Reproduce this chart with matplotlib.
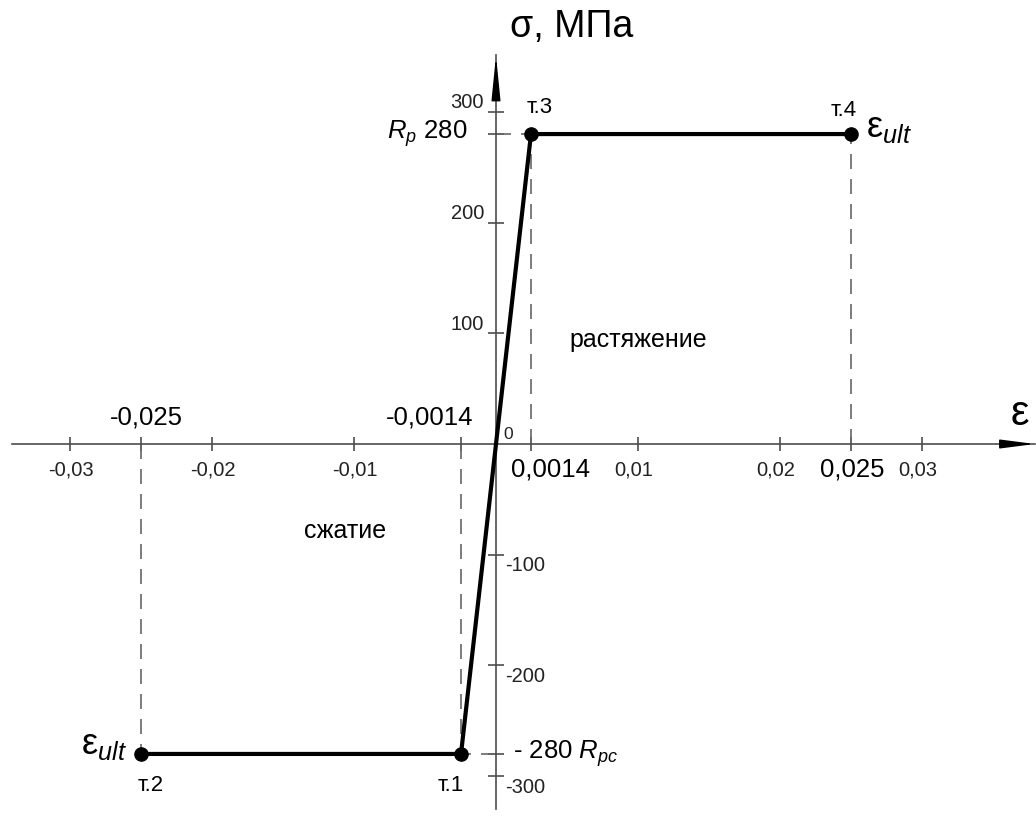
import numpy as np
import matplotlib
matplotlib.use("Agg")
import matplotlib.pyplot as plt

plt.rcParams['font.family'] = ['Liberation Sans', 'DejaVu Sans']
plt.rcParams['mathtext.fontset'] = 'custom'
plt.rcParams['mathtext.rm'] = 'Liberation Sans'
plt.rcParams['mathtext.it'] = 'Liberation Sans:italic'
plt.rcParams['mathtext.bf'] = 'Liberation Sans:bold'

# diagram points (strain, stress MPa)
strain = [-0.025, -0.0014, 0.0014, 0.025]
stress = [-280, -280, 280, 280]
point_names = ['т.2', 'т.1', 'т.3', 'т.4']

x_ticks = [-0.03, -0.025, -0.02, -0.01, -0.0014, 0.0014, 0.01, 0.02, 0.025, 0.03]
x_small = [-0.03, -0.02, -0.01, 0.01, 0.02, 0.03]
x_small_labels = ['-0,03', '-0,02', '-0,01', '0,01', '0,02', '0,03']
x_key_top = [-0.025, -0.0014]
x_key_top_labels = ['-0,025', '-0,0014']
x_key_bottom = [0.0014, 0.025]
x_key_bottom_labels = ['0,0014', '0,025']

y_ticks = [300, 280, 200, 100, -100, -200, -280, -300]
y_pos = [300, 200, 100]
y_neg = [-100, -200, -300]
Rp = 280
Rpc = -280

AX = '#4d4d4d'
DASH = '#666666'

# the sketch stretches the elastic part near zero
knots_e = np.array([0, 0.0014, 0.01, 0.1])
knots_p = np.array([0, 35, 142, 142 + 0.09 * 14200])


def fwd(x):
    x = np.asarray(x, dtype=float)
    return np.sign(x) * np.interp(np.abs(x), knots_e, knots_p)


def inv(p):
    p = np.asarray(p, dtype=float)
    return np.sign(p) * np.interp(np.abs(p), knots_p, knots_e)


fig = plt.figure(figsize=(10.36, 8.3), dpi=100)
ax = fig.add_axes([0, 0, 1, 1])
ax.set_xscale('function', functions=(fwd, inv))
ax.set_xlim(float(inv(-496)), float(inv(540)))
ax.set_ylim(-348.7, 401.1)

x_tip = float(inv(539))
y_tip = 351

for s in ['top', 'right']:
    ax.spines[s].set_visible(False)
for s in ['left', 'bottom']:
    ax.spines[s].set_position('zero')
    ax.spines[s].set_color(AX)
    ax.spines[s].set_linewidth(1.2)
ax.spines['bottom'].set_bounds(float(inv(-484)), x_tip)
ax.spines['left'].set_bounds(-330, y_tip)

ax.set_xticks(x_ticks)
ax.set_yticks(y_ticks)
ax.minorticks_off()
ax.tick_params(axis='x', direction='inout', length=10, width=1.2, color=AX,
               labelbottom=False)
ax.tick_params(axis='y', direction='inout', length=11, width=1.2, color=AX,
               labelleft=False)

# arrow heads
ax.annotate('', xy=(x_tip, 0), xytext=(float(inv(505)), 0),
            arrowprops=dict(arrowstyle='-|>,head_length=2.1,head_width=0.27',
                            mutation_scale=10, color='black', lw=1.1,
                            shrinkA=0, shrinkB=0))
ax.annotate('', xy=(0, y_tip), xytext=(0, y_tip - 40),
            arrowprops=dict(arrowstyle='-|>,head_length=2.7,head_width=0.27',
                            mutation_scale=10, color='black', lw=1.1,
                            shrinkA=0, shrinkB=0))

# dashed guide lines
for e, s in zip(strain, stress):
    ax.plot([e, e], [0, s], color=DASH, lw=1.2, ls=(0, (9, 6)), zorder=2)
for e, s in zip(strain[1:3], stress[1:3]):
    ax.plot([0, e], [s, s], color=DASH, lw=1.2, ls=(0, (9, 6)), zorder=2)

# the diagram
ax.plot(strain, stress, color='black', lw=3, marker='o', ms=9.5, zorder=5)

# tick labels
for v, t in zip(x_small, x_small_labels):
    dx = -4 if v > 0 else 1
    ax.annotate(t, xy=(v, 0), xytext=(dx, -26), textcoords='offset pixels',
                ha='center', va='center', fontsize=14.5, color='#222222')
ax.annotate(x_key_top_labels[0], xy=(x_key_top[0], 0), xytext=(5, 27),
            textcoords='offset pixels', ha='center', va='center', fontsize=18.5)
ax.annotate(x_key_top_labels[1], xy=(x_key_top[1], 0), xytext=(12, 27),
            textcoords='offset pixels', ha='right', va='center', fontsize=18.5)
ax.annotate(x_key_bottom_labels[0], xy=(x_key_bottom[0], 0), xytext=(20, -25),
            textcoords='offset pixels', ha='center', va='center', fontsize=18.5)
ax.annotate(x_key_bottom_labels[1], xy=(x_key_bottom[1], 0), xytext=(1, -25),
            textcoords='offset pixels', ha='center', va='center', fontsize=18.5)
ax.annotate('0', xy=(0, 0), xytext=(12, 10), textcoords='offset pixels',
            ha='center', va='center', fontsize=12.5, color='#222222')

for v in y_pos:
    ax.annotate(str(v), xy=(0, v), xytext=(-12, 9), textcoords='offset pixels',
                ha='right', va='center', fontsize=14.5, color='#222222')
for v in y_neg:
    ax.annotate(str(v), xy=(0, v), xytext=(9, -11), textcoords='offset pixels',
                ha='left', va='center', fontsize=14.5, color='#222222')
ax.annotate(r'$R_p$ ' + str(Rp), xy=(0, Rp), xytext=(-29, 0),
            textcoords='offset pixels', ha='right', va='center', fontsize=18.5)
ax.annotate('- ' + str(-Rpc) + r' $R_{pc}$', xy=(0, Rpc), xytext=(17, 0),
            textcoords='offset pixels', ha='left', va='center', fontsize=18.5)

# point names
name_offsets = [(10, -32), (-10, -32), (9, 27), (-7, 24)]
for e, s, n, off in zip(strain, stress, point_names, name_offsets):
    ax.annotate(n, xy=(e, s), xytext=off, textcoords='offset pixels',
                ha='center', va='center', fontsize=16)

# ultimate strain marks
ax.annotate(r'$\mathrm{ε}_{ult}$', xy=(strain[0], stress[0]), xytext=(-14, 0),
            textcoords='offset pixels', ha='right', va='baseline', fontsize=26)
ax.annotate(r'$\mathrm{ε}_{ult}$', xy=(strain[3], stress[3]), xytext=(15, -3),
            textcoords='offset pixels', ha='left', va='baseline', fontsize=26)

# axis names
ax.annotate('ε', xy=(x_tip, 0), xytext=(-15, 30), textcoords='offset pixels',
            ha='center', va='center', fontsize=30)
ax.annotate('σ, МПа', xy=(0, y_tip), xytext=(76, 28), textcoords='offset pixels',
            ha='center', va='center', fontsize=27)

# zones
ax.text(0.01, 94, 'растяжение', ha='center', va='center', fontsize=18)
ax.text(-0.0106, -79, 'сжатие', ha='center', va='center', fontsize=18)

fig.savefig('out.png', dpi=100)
